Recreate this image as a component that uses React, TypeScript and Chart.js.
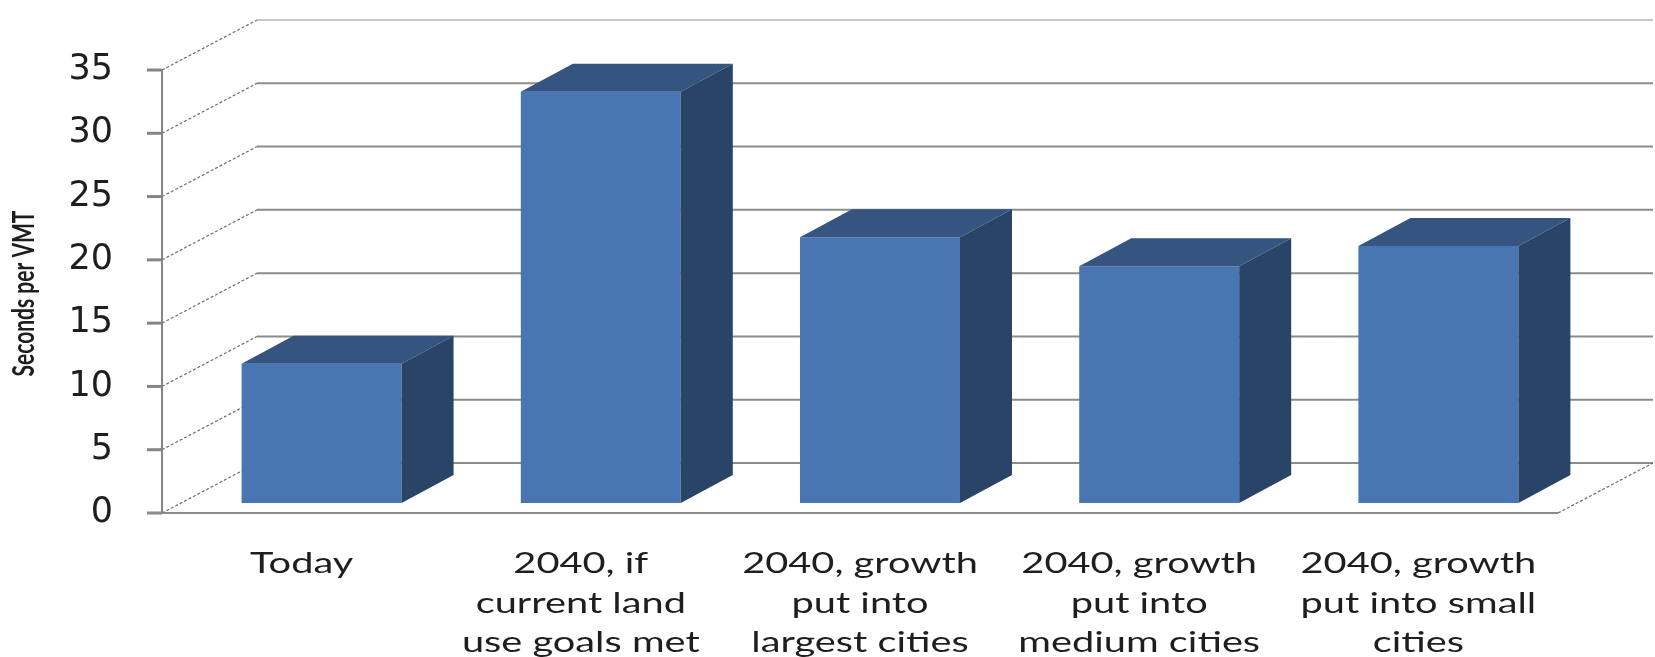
import React, { useEffect, useRef } from "react";
import { Chart, registerables } from "chart.js";

Chart.register(...registerables);

// ---- data ----
const categories: string[][] = [
  ["Today"],
  ["2040, if", "current land", "use goals met"],
  ["2040, growth", "put into", "largest cities"],
  ["2040, growth", "put into", "medium cities"],
  ["2040, growth", "put into small", "cities"],
];
const secondsPerVMT: number[] = [11, 32.5, 21, 18.7, 20.3];
const yMin = 0;
const yMax = 35;
const yStep = 5;
const yAxisTitle = "Seconds per VMT";

// ---- style ----
const FRONT = "#4976b3";
const TOP = "#35547f";
const SIDE = "#2a4467";
const FLOOR_DX = 95;
const FLOOR_DY = -50;
const BAR_OFF_DX = 20;
const BAR_OFF_DY = -10;
const BAR_DX = 52;
const BAR_DY = -28;
const TEXT_STRETCH = 1.42;

function line(ctx: CanvasRenderingContext2D, x1: number, y1: number, x2: number, y2: number) {
  ctx.beginPath();
  ctx.moveTo(x1, y1);
  ctx.lineTo(x2, y2);
  ctx.stroke();
}

function poly(ctx: CanvasRenderingContext2D, pts: number[][]) {
  ctx.beginPath();
  ctx.moveTo(pts[0][0], pts[0][1]);
  for (let i = 1; i < pts.length; i++) ctx.lineTo(pts[i][0], pts[i][1]);
  ctx.closePath();
  ctx.fill();
}

const threeD = {
  id: "threeD",
  beforeDatasetsDraw(chart: any) {
    const { ctx, chartArea: a, scales } = chart;
    const y = scales.y;
    ctx.save();
    for (const t of y.ticks) {
      const py = y.getPixelForValue(t.value);
      // back wall gridline
      ctx.setLineDash([]);
      ctx.strokeStyle = t.value === yMax ? "#c8c8c8" : "#8c8c8c";
      ctx.lineWidth = 2;
      line(ctx, a.left + FLOOR_DX, py + FLOOR_DY, a.right + FLOOR_DX, py + FLOOR_DY);
      // side wall diagonal
      ctx.setLineDash([3, 2]);
      ctx.strokeStyle = "#6f6f6f";
      ctx.lineWidth = 1.2;
      line(ctx, a.left, py, a.left + FLOOR_DX, py + FLOOR_DY);
      // tick mark
      ctx.setLineDash([]);
      ctx.strokeStyle = "#858585";
      ctx.lineWidth = 3;
      line(ctx, a.left - 15, py, a.left, py);
    }
    // floor right edge
    ctx.setLineDash([3, 2]);
    ctx.strokeStyle = "#6f6f6f";
    ctx.lineWidth = 1.2;
    line(ctx, a.right, a.bottom, a.right + FLOOR_DX, a.bottom + FLOOR_DY);
    // floor front edge
    ctx.setLineDash([]);
    ctx.strokeStyle = "#8c8c8c";
    ctx.lineWidth = 2;
    line(ctx, a.left - 15, a.bottom, a.right, a.bottom);
    // y axis line
    ctx.strokeStyle = "#858585";
    ctx.lineWidth = 2;
    line(ctx, a.left, a.top, a.left, a.bottom);
    ctx.restore();

    ctx.save();
    ctx.translate(BAR_OFF_DX, BAR_OFF_DY);
  },
  afterDatasetsDraw(chart: any) {
    const { ctx, chartArea: a, scales } = chart;
    const meta = chart.getDatasetMeta(0);
    for (const el of meta.data) {
      const { x, y, base, width } = el.getProps(["x", "y", "base", "width"], true);
      const l = x - width / 2;
      const r = x + width / 2;
      ctx.fillStyle = TOP;
      poly(ctx, [[l, y], [l + BAR_DX, y + BAR_DY], [r + BAR_DX, y + BAR_DY], [r, y]]);
      ctx.fillStyle = SIDE;
      poly(ctx, [[r, y], [r + BAR_DX, y + BAR_DY], [r + BAR_DX, base + BAR_DY], [r, base]]);
    }
    ctx.restore();

    // category labels
    ctx.save();
    ctx.fillStyle = "#1e1e1e";
    ctx.font = "28px Lato";
    ctx.textAlign = "center";
    ctx.textBaseline = "middle";
    categories.forEach((lines, i) => {
      const cx = scales.x.getPixelForValue(i);
      lines.forEach((txt, k) => {
        ctx.save();
        ctx.translate(cx, a.bottom + 51 + k * 39.5);
        ctx.scale(TEXT_STRETCH, 1);
        ctx.fillText(txt, 0, 0);
        ctx.restore();
      });
    });
    ctx.restore();

    // y axis title
    ctx.save();
    ctx.fillStyle = "#1e1e1e";
    ctx.font = "bold 21px Lato";
    ctx.textAlign = "center";
    ctx.textBaseline = "middle";
    ctx.translate(24, (a.top + a.bottom) / 2 + 2);
    ctx.scale(TEXT_STRETCH, 1);
    ctx.rotate(-Math.PI / 2);
    ctx.fillText(yAxisTitle, 0, 0);
    ctx.restore();
  },
};

export default function App() {
  const canvasRef = useRef<HTMLCanvasElement | null>(null);

  useEffect(() => {
    const canvas = canvasRef.current;
    if (!canvas) return;
    const chart = new Chart(canvas, {
      type: "bar",
      data: {
        labels: categories,
        datasets: [
          {
            label: yAxisTitle,
            data: secondsPerVMT,
            backgroundColor: FRONT,
            borderWidth: 0,
            barPercentage: 0.573,
            categoryPercentage: 1,
            clip: false as any,
          },
        ],
      },
      options: {
        animation: false,
        responsive: true,
        maintainAspectRatio: false,
        layout: { padding: { top: 63, right: 97, left: 0, bottom: 0 } },
        plugins: {
          legend: { display: false },
          tooltip: { enabled: false },
        },
        scales: {
          x: {
            grid: { display: false, drawTicks: false },
            border: { display: false },
            ticks: { display: false },
            afterFit: (s: any) => {
              s.height = 144;
            },
          },
          y: {
            min: yMin,
            max: yMax,
            grid: { display: false, drawTicks: false },
            border: { display: false },
            ticks: {
              stepSize: yStep,
              padding: 49,
              color: "#1e1e1e",
              font: { family: "DejaVu Sans", size: 35 },
            },
            afterFit: (s: any) => {
              s.width = 162;
            },
          },
        },
      },
      plugins: [threeD],
    });
    return () => chart.destroy();
  }, []);

  return (
    <div style={{ position: "fixed", left: 0, top: 0, width: 1655, height: 657, background: "#fff" }}>
      <canvas ref={canvasRef} />
    </div>
  );
}
